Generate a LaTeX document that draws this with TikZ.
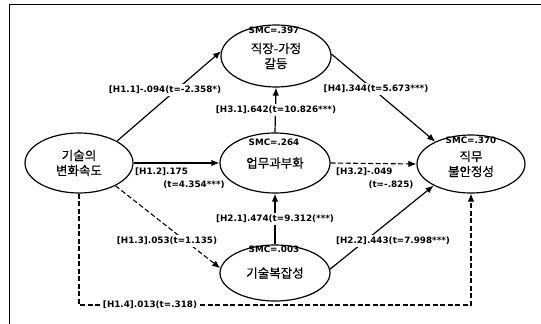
\documentclass[tikz,border=0pt]{standalone}
\usepackage{fontspec}
\setmainfont{DejaVu Sans}
\newfontfamily\kofont[FakeBold=0.6]{Noto Sans CJK KR}
\usetikzlibrary{shapes.geometric}
\usetikzlibrary{arrows.meta}
\tikzset{
    construct/.style={draw,ellipse,line width=1.2pt,inner sep=0pt,align=center,font=\kofont\fontsize{12.5}{15}\selectfont},
    smc/.style={font=\bfseries\fontsize{8.8}{10}\selectfont,inner sep=0pt},
    coef/.style={font=\bfseries\fontsize{8.8}{10}\selectfont,fill=white,inner sep=2pt},
    effect/.style={line width=1.2pt,-{Latex[length=8pt,width=6.5pt]}},
    weak effect/.style={effect,line width=1.1pt,dash pattern=on 5pt off 2.5pt},
}
\begin{document}
\begin{tikzpicture}[x=1pt,y=-1pt]
\useasboundingbox (0,0) rectangle (541,324);
\draw[line width=1pt] (9,324) -- (9,4.5) -- (541,4.5);
\node[construct,minimum width=108pt,minimum height=60pt] (vel) at (79,163) {기술의\\변화속도};
\node[construct,minimum width=110pt,minimum height=62pt] (wfc) at (276,56) {직장-가정\\갈등};
\node[construct,minimum width=110pt,minimum height=60pt] (ovl) at (275,163) {업무과부화};
\node[construct,minimum width=110pt,minimum height=56pt] (cpx) at (275,273) {기술복잡성};
\node[construct,minimum width=108pt,minimum height=58pt] (ins) at (471,164) {직무\\불안정성};
\node[smc] (smcwfc) at (274,30) {SMC=.397};
\node[smc] (smcovl) at (274,142) {SMC=.264};
\node[smc] (smccpx) at (274,249) {SMC=.003};
\node[smc] (smcins) at (471,140) {SMC=.370};
\draw[effect] (vel.30) -- (wfc.175);
\draw[effect] (vel.east) -- (ovl.west);
\draw[weak effect] (vel.-32) -- (cpx.175);
\draw[weak effect] (vel.south) |- (0,305 -| ins.south) -- (ins.south);
\draw[effect] (cpx.north) -- (ovl.south);
\draw[effect] (cpx.4) -- (ins.210);
\draw[effect] (ovl.north) -- (wfc.south);
\draw[weak effect] (ovl.east) -- (ins.west);
\draw[effect] (wfc.2) -- (ins.148);
\node[coef] (h11) at (165,90) {[H1.1]-.094(t=-2.358*)};
\node[coef,anchor=west] (h12a) at (133,172) {[H1.2].175};
\node[coef] (h12b) at (194,185) {(t=4.354***)};
\node[coef] (h13) at (167,241) {[H1.3].053(t=1.135)};
\node[coef] (h14) at (150,305) {[H1.4].013(t=.318)};
\node[coef] (h21) at (275,219) {[H2.1].474(t=9.312(***)};
\node[coef] (h22) at (393,241) {[H2.2].443(t=7.998***)};
\node[coef] (h31) at (276,110) {[H3.1].642(t=10.826***)};
\node[coef,anchor=west] (h32a) at (334,172) {[H3.2]-.049};
\node[coef] (h32b) at (391,185) {(t=-.825)};
\node[coef] (h4) at (376,89) {[H4].344(t=5.673***)};
\end{tikzpicture}
\end{document}
